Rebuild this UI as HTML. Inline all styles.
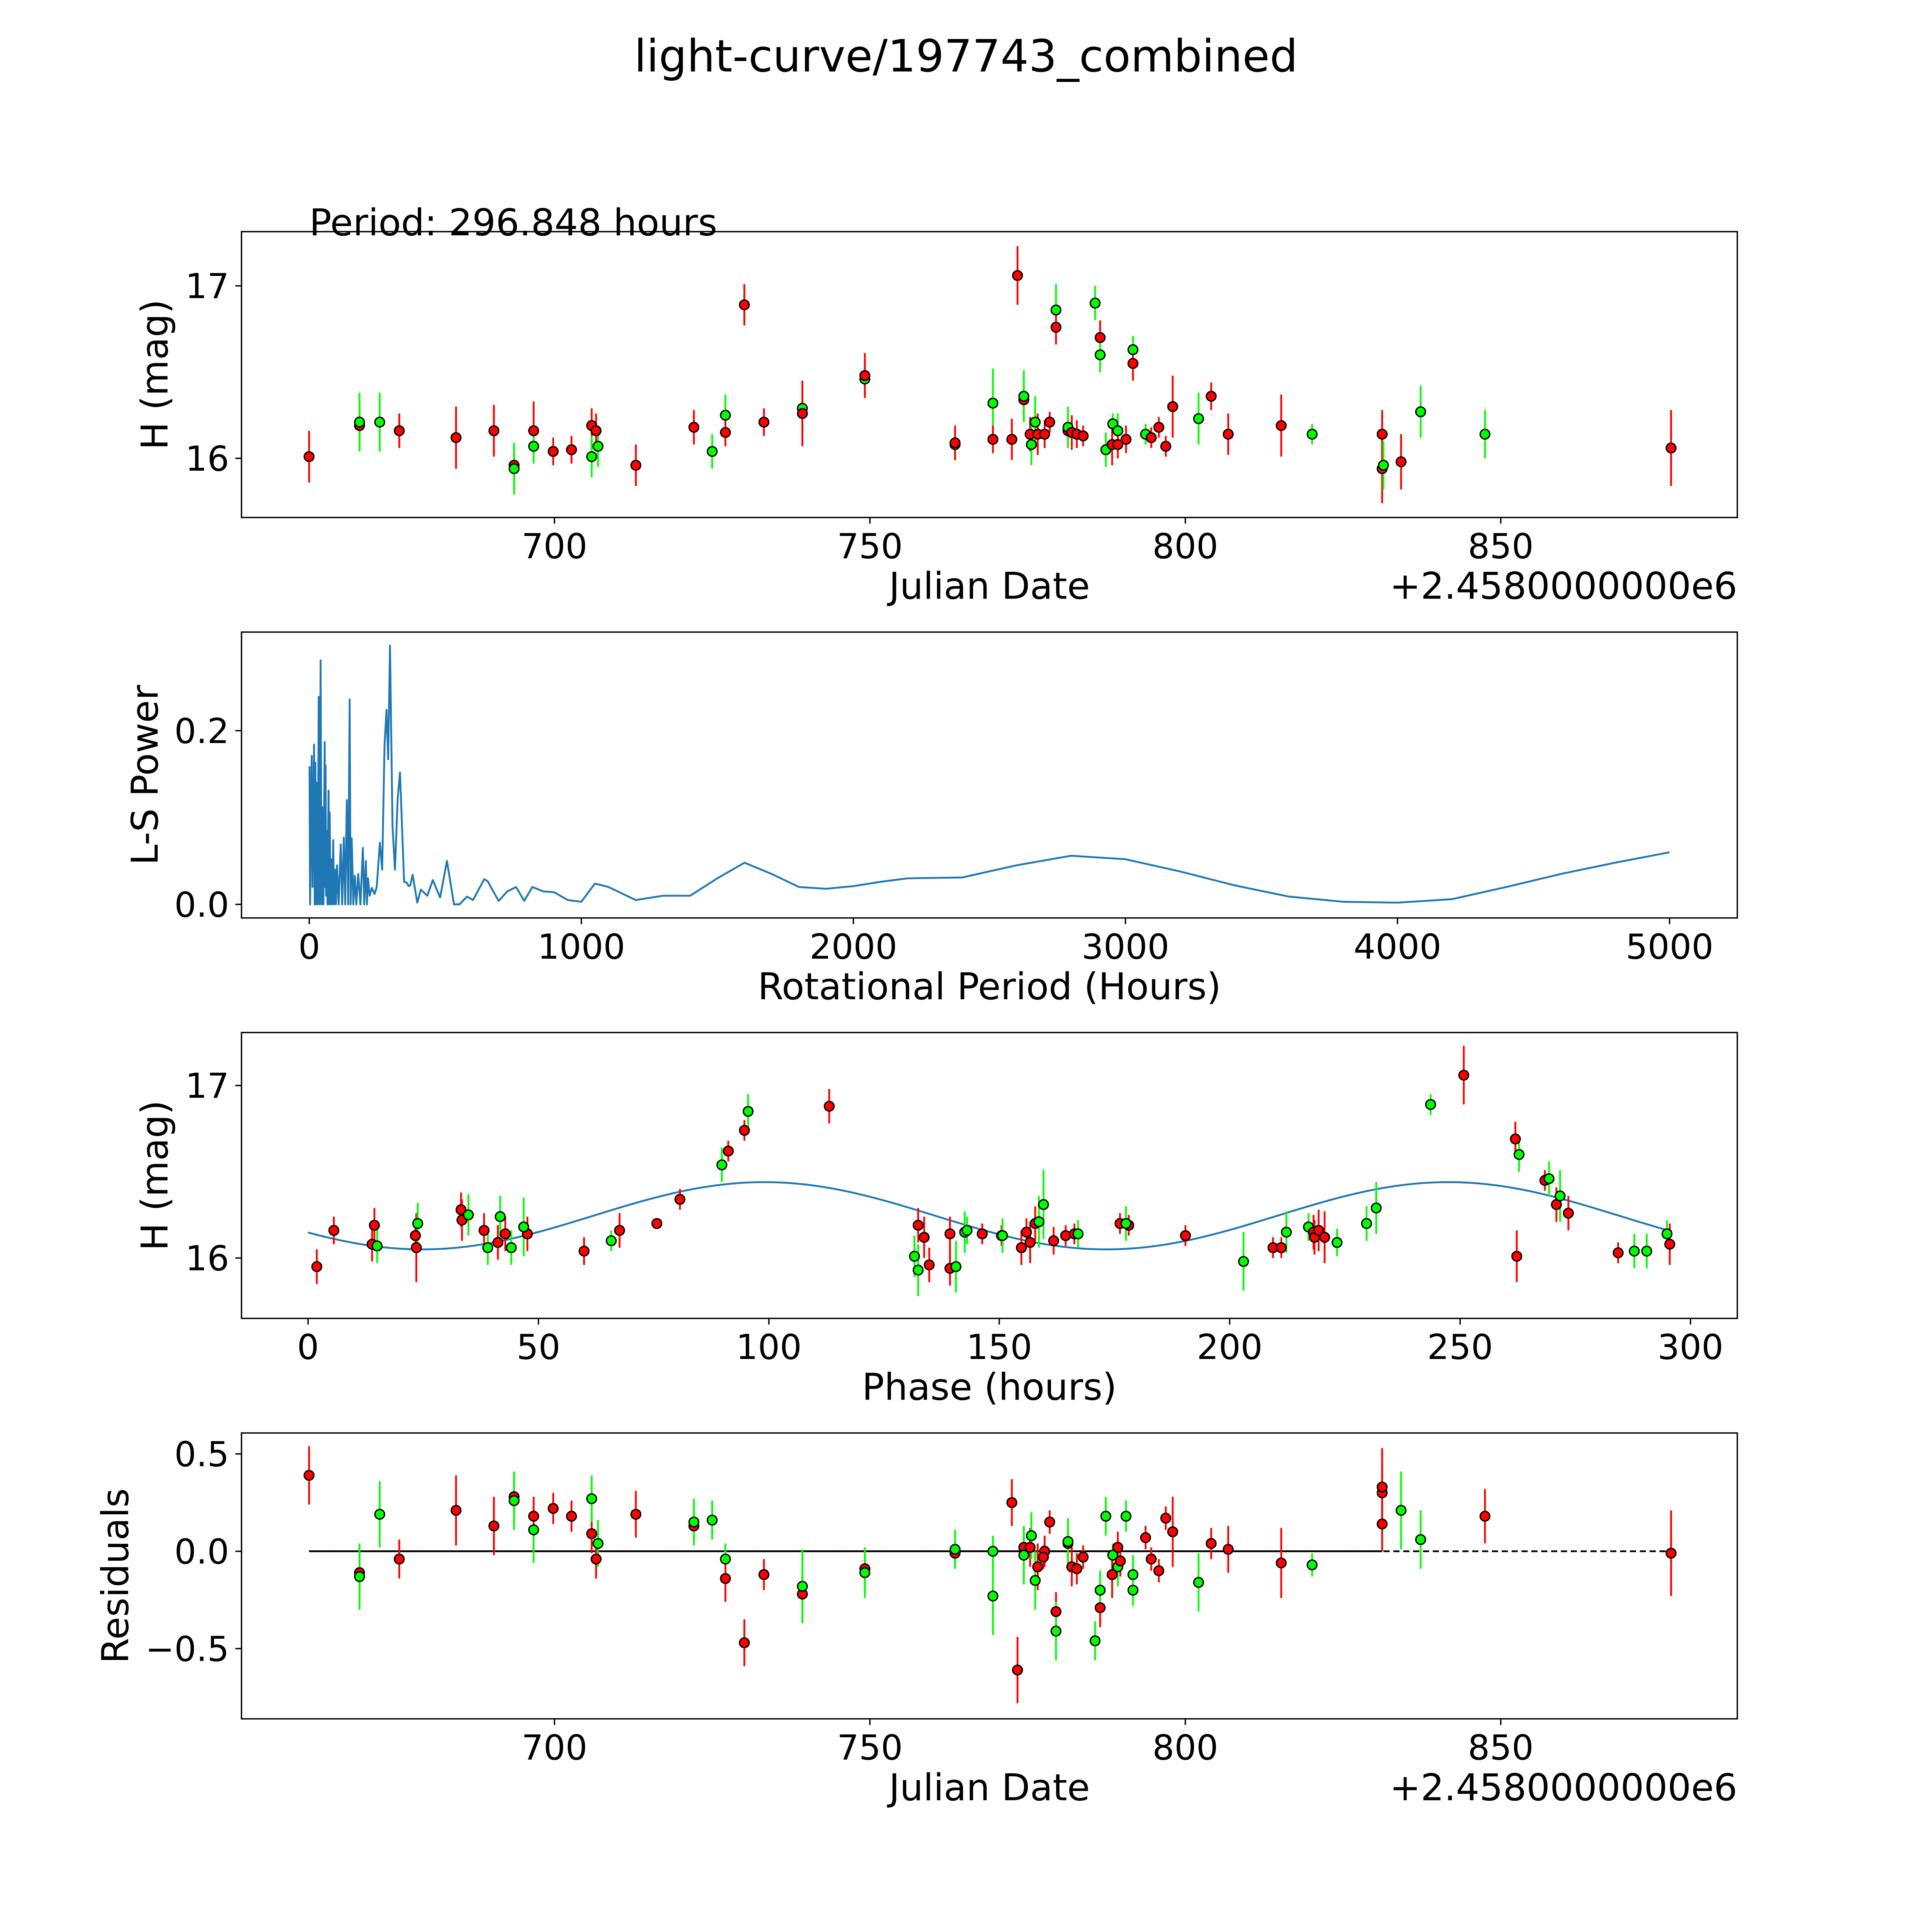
<!DOCTYPE html>
<html><head><meta charset="utf-8"><style>
html,body{margin:0;padding:0;background:#fff;width:100%;height:100%;overflow:hidden}
svg{display:block;width:100vw;height:100vh}
text{font-family:"DejaVu Sans","Liberation Sans",sans-serif;fill:#000}
</style></head><body>
<svg id="fig" xmlns="http://www.w3.org/2000/svg" viewBox="0 0 1568 1568" preserveAspectRatio="none">
<rect width="1568" height="1568" fill="#fff"/>
<text x="784" y="58" font-size="36" text-anchor="middle">light-curve/197743_combined</text>
<g id="g1"></g>
<g id="g2"></g>
<g id="g3"></g>
<g id="g4"></g>
</svg>
<script>
// ---- time series data ----
const jdVals=[661.1,669.1,669.1,672.3,675.4,684.4,690.4,693.6,693.6,696.7,696.7,699.8,702.7,705.9,705.9,706.6,706.9,712.9,722.1,725.0,727.1,727.1,730.1,733.2,739.3,739.3,749.2,749.2,763.5,763.5,769.5,769.5,772.5,773.4,774.4,774.4,775.4,775.6,776.2,776.6,777.7,778.5,779.5,779.5,781.4,781.4,782.0,782.8,783.8,785.7,786.5,786.5,787.4,788.5,788.4,789.3,789.3,790.6,791.7,791.7,793.7,794.6,795.8,796.9,798.0,802.1,804.1,806.8,815.2,820.1,831.2,831.2,831.4,834.2,837.3,847.5,877.0];
const magVals=[16.01,16.19,16.21,16.21,16.16,16.12,16.16,15.96,15.94,16.16,16.07,16.04,16.05,16.19,16.01,16.16,16.07,15.96,16.18,16.04,16.25,16.15,16.89,16.21,16.29,16.26,16.46,16.48,16.08,16.09,16.32,16.11,16.11,17.06,16.34,16.36,16.14,16.08,16.21,16.14,16.14,16.21,16.86,16.76,16.16,16.18,16.15,16.14,16.13,16.90,16.70,16.60,16.05,16.20,16.08,16.16,16.08,16.11,16.63,16.55,16.14,16.12,16.18,16.07,16.30,16.23,16.36,16.14,16.19,16.14,16.14,15.94,15.96,15.98,16.27,16.14,16.06];
const errVals=[.15,.12,.17,.17,.1,.18,.15,.08,.15,.17,.1,.08,.08,.1,.12,.1,.12,.12,.1,.1,.12,.08,.12,.08,.1,.19,.1,.13,.06,.1,.2,.08,.12,.17,.1,.15,.1,.12,.15,.12,.08,.06,.15,.1,.1,.12,.1,.08,.06,.1,.1,.1,.1,.06,.12,.1,.08,.08,.08,.1,.06,.06,.06,.06,.18,.15,.08,.12,.18,.06,.14,.2,.14,.16,.15,.14,.22];
const bandVals="rrggrrrrgrgrrrgrgrrggrrrgrgrgrgrrrrgrggrrrgrrgrrrgrgggrgrrgrgrrrrgrrrgrrgrggrr".split("");
// ---- periodogram data ----
const lsPeriods=[1,3,9,12,17.6,20,22.6,25,28,31,34.7,38,41.7,45,47.8,52,56.8,58,60,62,64,67,71,73,75,78,82,85,88,91,94.6,98,102,108,115.7,121,127,132,138,143,148.4,152,156,162,167.5,173,180,188,197,202,208,212,216,222,230,240,248,259.5,268,276.7,284,290,296.8,306,315,325,333.5,348.6,358.6,365,371,380,397,410,434,454,481,506,532,552,580,602,643,655,696,728,760,790,820,860,900,950,1000,1050,1100,1200,1300,1400,1500,1600,1700,1800,1900,2000,2100,2200,2400,2600,2800,3000,3200,3400,3600,3800,4000,4200,4400,4600,4800,5000];
const lsPower=[0.159,0,0.171,0.02,0.184,0,0.163,0,0.14,0,0.239,0,0.281,0,0.112,0,0.187,0.02,0.16,0.01,0.085,0,0.131,0,0.106,0,0.052,0,0.074,0,0.04,0,0.045,0,0.069,0,0.077,0,0.12,0,0.236,0,0.076,0,0.033,0,0.035,0,0.065,0,0.05,0,0.03,0.01,0.019,0.012,0.02,0.071,0.04,0.184,0.224,0.167,0.298,0.09,0.04,0.122,0.152,0.026,0.025,0.021,0.022,0.034,0.002,0.017,0.01,0.028,0.008,0.05,0,0,0.009,0.005,0.029,0.027,0.004,0.015,0.02,0.004,0.02,0.015,0.014,0.005,0.003,0.024,0.02,0.005,0.01,0.01,0.03,0.048,0.035,0.02,0.018,0.021,0.026,0.03,0.031,0.045,0.056,0.052,0.038,0.022,0.009,0.003,0.002,0.006,0.02,0.035,0.048,0.06];
// ---- phase-folded data ----
const phVals=[1.9,5.6,14.4,13.9,15,23.3,23.5,23.8,33.2,33.4,34.8,38.2,39,41.2,41.7,42.8,44.1,47.6,46.8,59.9,65.8,67.6,75.7,80.7,89.8,91.2,94.7,95.5,113.1,131.6,132.4,132.4,133.7,134.8,139.3,139.3,140.6,142.5,143,146.3,150.5,150.7,154.8,155.9,156.7,157.8,158.6,159.6,161.8,164.4,166.3,167.1,176.2,178.1,177.5,190.4,203,209.4,211.2,212.3,217.1,218.2,218.4,219.3,220.6,223.3,229.7,231.8,243.6,250.8,262,262.8,262.3,268.4,269.3,270.9,271.7,273.5,284.3,287.8,290.5,294.9,295.5];
const phMag=[15.95,16.16,16.19,16.08,16.07,16.13,16.06,16.2,16.28,16.22,16.25,16.16,16.06,16.09,16.24,16.14,16.06,16.14,16.18,16.04,16.1,16.16,16.2,16.34,16.54,16.62,16.74,16.85,16.88,16.01,16.19,15.93,16.12,15.96,16.14,15.94,15.95,16.15,16.16,16.14,16.13,16.13,16.06,16.15,16.09,16.2,16.21,16.31,16.1,16.13,16.14,16.14,16.2,16.19,16.2,16.13,15.98,16.06,16.06,16.15,16.18,16.15,16.12,16.16,16.12,16.09,16.2,16.29,16.89,17.06,16.69,16.6,16.01,16.45,16.46,16.31,16.36,16.26,16.03,16.04,16.04,16.14,16.08];
const phErr=[.1,.08,.1,.1,.1,.1,.2,.12,.1,.12,.12,.1,.1,.1,.12,.1,.1,.1,.17,.08,.06,.1,.03,.06,.1,.06,.06,.1,.1,.12,.1,.15,.12,.1,.1,.1,.15,.12,.08,.06,.06,.1,.1,.08,.12,.1,.15,.2,.08,.06,.06,.08,.06,.06,.1,.06,.17,.06,.06,.12,.08,.1,.1,.12,.15,.08,.1,.15,.06,.17,.1,.1,.15,.06,.1,.1,.15,.1,.06,.1,.1,.08,.12];
const phBand="rrrrgrrgrrgrgrgrgrgrgrrrgrrgrgrgrrrrgggrrgrrrrggrrrgrrgrgrrggrrrrggggrrgrrgrgrrgggrg".split("");
const modelMean=16.245, modelAmp=0.195, modelPeak=99, foldPeriod=296.848;
// ---- residuals data ----
const resJd=[661.1,669.1,669.1,672.3,675.4,684.4,690.4,693.6,693.6,696.7,696.7,699.8,702.7,705.9,705.9,706.6,706.9,712.9,722.1,722.1,725.0,727.1,727.1,730.1,733.2,739.3,739.3,749.2,749.2,763.5,763.5,769.5,769.5,772.5,773.4,774.4,774.4,775.4,775.6,776.2,776.6,777.7,777.5,778.5,779.5,779.5,781.4,781.4,782.0,782.8,783.8,785.7,786.5,786.5,787.4,788.5,788.4,789.3,789.3,789.7,790.6,791.7,791.7,793.7,794.6,795.8,796.9,798.0,802.1,804.1,806.8,815.2,820.1,831.2,831.2,831.2,834.2,837.3,847.5,877.0];
const resVals=[0.39,-0.11,-0.13,0.19,-0.04,0.21,0.13,0.28,0.26,0.11,0.18,0.22,0.18,0.09,0.27,-0.04,0.04,0.19,0.13,0.15,0.16,-0.04,-0.14,-0.47,-0.12,-0.22,-0.18,-0.09,-0.11,-0.01,0.01,-0.23,0,0.25,-0.61,0.02,-0.02,0.02,0.08,-0.15,-0.08,0,-0.03,0.15,-0.31,-0.41,0.04,0.05,-0.08,-0.09,-0.03,-0.46,-0.29,-0.2,0.18,-0.02,-0.12,-0.08,0.02,-0.05,0.18,-0.2,-0.12,0.07,-0.04,-0.1,0.17,0.1,-0.16,0.04,0.01,-0.06,-0.07,0.14,0.30,0.33,0.21,0.06,0.18,-0.01];
const resErr=[.15,.12,.17,.17,.1,.18,.15,.08,.15,.17,.1,.08,.08,.1,.12,.1,.12,.12,.1,.12,.1,.08,.12,.12,.08,.1,.19,.1,.13,.06,.1,.2,.08,.12,.17,.1,.15,.1,.12,.15,.12,.08,.06,.06,.1,.15,.1,.12,.1,.08,.06,.1,.1,.1,.1,.06,.12,.1,.08,.08,.08,.08,.1,.06,.06,.06,.06,.18,.15,.08,.12,.18,.06,.14,.14,.2,.2,.15,.14,.22];
const resBand="rrggrrrrggrrrrgrgrrgggrrrrgrgrgggrrrgrggrrrrrgrgrrrgrgggrgrrgggrrrrrgrrrgrrrggrrr".split("");

const NS="http://www.w3.org/2000/svg";
function mk(parent,tag,attrs){const e=document.createElementNS(NS,tag);for(const k in attrs)e.setAttribute(k,attrs[k]);parent.appendChild(e);return e;}
function lin(d0,d1,r0,r1){return v=>r0+(v-d0)*(r1-r0)/(d1-d0);}
const AX_L=196, AX_R=1410;
const COL={r:"#ff0000",g:"#00ff00"};

function frame(g,top,bot,xs,ys,xt,yt,xlab,ylab,ylabX,offset){
  const f=mk(g,"rect",{x:AX_L,y:top,width:AX_R-AX_L,height:bot-top,fill:"none",stroke:"#000","stroke-width":1.1});
  
  
  xt.forEach(v=>{const x=xs(v);
    const t=mk(g,"line",{x1:x,x2:x,y1:bot,y2:bot+5,stroke:"#000","stroke-width":1.1});
    
    
    const l=mk(g,"text",{x:x,y:bot+33,"font-size":28,"text-anchor":"middle"});l.textContent=v;
    
    
  });
  yt.forEach(v=>{const y=ys(v[0]);
    const t=mk(g,"line",{x1:AX_L-5,x2:AX_L,y1:y,y2:y,stroke:"#000","stroke-width":1.1});
    
    
    const l=mk(g,"text",{x:AX_L-10,y:y+10,"font-size":28,"text-anchor":"end"});l.textContent=v[1];
    
    
  });
  const xl=mk(g,"text",{x:(AX_L+AX_R)/2,y:bot+66,"font-size":30,"text-anchor":"middle"});xl.textContent=xlab;
  
  
  const yc=(top+bot)/2;
  const yl=mk(g,"text",{x:ylabX,y:yc,"font-size":30,"text-anchor":"middle",transform:`rotate(-90 ${ylabX} ${yc})`});yl.textContent=ylab;
  
  
  if(offset){const o=mk(g,"text",{x:AX_R,y:bot+66,"font-size":30,"text-anchor":"end"});o.textContent="+2.4580000000e6";
    
    }
}
function errPoints(g,xa,ya,ea,ba,xs,ys,name){
  const bars=mk(g,"g",{});
  const pts=mk(g,"g",{});
  for(let i=0;i<xa.length;i++){
    const x=xs(xa[i]),c=COL[ba[i]];
    const b=mk(bars,"line",{x1:x,x2:x,y1:ys(ya[i]-ea[i]),y2:ys(ya[i]+ea[i]),stroke:c,"stroke-width":1.5});
    
    
    const p=mk(pts,"circle",{cx:x,cy:ys(ya[i]),r:3.9,fill:c,stroke:"#000","stroke-width":1.1});
    
    
  }
}
// Panel 1
(function(){const g=document.getElementById("g1");const top=188,bot=420;
  const xs=lin(700,800,450,962), ys=lin(16,17,372,232);
  frame(g,top,bot,xs,ys,[700,750,800,850],[[16,"16"],[17,"17"]],"Julian Date","H (mag)",136,true);
  errPoints(g,jdVals,magVals,errVals,bandVals,xs,ys,"magnitude");
  const t=mk(g,"text",{x:251,y:191,"font-size":30});t.textContent="Period: 296.848 hours";
  
  
})();
// Panel 2
(function(){const g=document.getElementById("g2");const top=513,bot=745;
  const xs=lin(0,5000,251,1355), ys=lin(0,0.2,734,593);
  frame(g,top,bot,xs,ys,[0,1000,2000,3000,4000,5000],[[0,"0.0"],[0.2,"0.2"]],"Rotational Period (Hours)","L-S Power",128,false);
  const d=lsPeriods.map((p,i)=>(i?"L":"M")+xs(p).toFixed(2)+" "+ys(lsPower[i]).toFixed(2)).join(" ");
  const l=mk(g,"path",{d:d,fill:"none",stroke:"#1f77b4","stroke-width":1.5,"stroke-linejoin":"round"});
  
  
})();
// Panel 3
(function(){const g=document.getElementById("g3");const top=838,bot=1070;
  const xs=lin(0,100,250,624), ys=lin(16,17,1021,881);
  frame(g,top,bot,xs,ys,[0,50,100,150,200,250,300],[[16,"16"],[17,"17"]],"Phase (hours)","H (mag)",136,false);
  let d="";for(let p=0;p<=foldPeriod;p+=2){const m=modelMean+modelAmp*Math.cos(4*Math.PI*(p-modelPeak)/foldPeriod);d+=(p?"L":"M")+xs(p).toFixed(2)+" "+ys(m).toFixed(2)+" ";}
  const l=mk(g,"path",{d:d,fill:"none",stroke:"#1f77b4","stroke-width":1.5});
  
  
  errPoints(g,phVals,phMag,phErr,phBand,xs,ys,"phase");
})();
// Panel 4
(function(){const g=document.getElementById("g4");const top=1163,bot=1395;
  const xs=lin(700,800,450,962), ys=lin(0,0.5,1259,1180);
  frame(g,top,bot,xs,ys,[700,750,800,850],[[0.5,"0.5"],[0,"0.0"],[-0.5,"\u22120.5"]],"Julian Date","Residuals",104,true);
  const dl=mk(g,"line",{x1:xs(661.1),x2:xs(877),y1:ys(0),y2:ys(0),stroke:"#000","stroke-width":1.4,"stroke-dasharray":"5 3"});
  
  
  const sl=mk(g,"line",{x1:xs(661.1),x2:xs(831.2),y1:ys(0),y2:ys(0),stroke:"#000","stroke-width":1.5});
  
  
  errPoints(g,resJd,resVals,resErr,resBand,xs,ys,"residual");
})();
</script>
</body></html>
